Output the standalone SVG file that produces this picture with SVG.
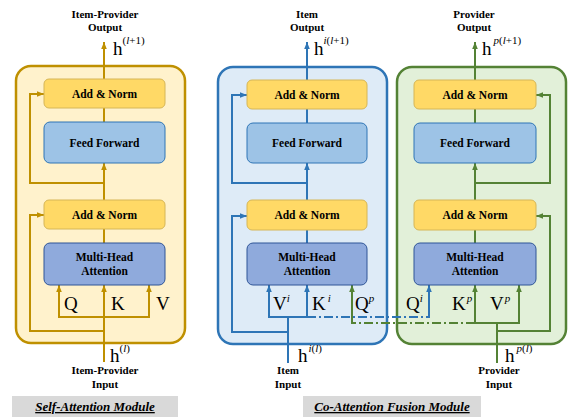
<svg xmlns="http://www.w3.org/2000/svg" width="568" height="417" viewBox="0 0 568 417">
<style>
text{font-family:"Liberation Serif","Times New Roman",serif;fill:#000}
.lbl{font-size:11.5px;font-weight:bold;text-anchor:middle}
.io{font-size:11px;font-weight:bold;text-anchor:middle}
.big{font-size:19px}
.sup{font-size:11px}
.it{font-style:italic}
.cap{font-size:13px;font-weight:bold;font-style:italic;text-decoration:underline;text-anchor:middle}
.an{fill:#ffd966;stroke:#d6b656;stroke-width:1}
.ff{fill:#9dc3e6;stroke:#2e75b6;stroke-width:1}
.mha{fill:#8faadc;stroke:#2f5597;stroke-width:1}
.ln{fill:none;stroke-width:2}
.g{stroke:#bf9000}
.b{stroke:#2e75b6}
.gr{stroke:#548235}
.dd{stroke-dasharray:9,3,2,3}
</style>
<defs>
<marker id="ag" viewBox="0 0 10 10" refX="10" refY="5" markerUnits="userSpaceOnUse" markerWidth="7" markerHeight="7" orient="auto"><path d="M0,1 L10,5 L0,9 z" fill="#bf9000"/></marker>
<marker id="ab" viewBox="0 0 10 10" refX="10" refY="5" markerUnits="userSpaceOnUse" markerWidth="7" markerHeight="7" orient="auto"><path d="M0,1 L10,5 L0,9 z" fill="#2e75b6"/></marker>
<marker id="agr" viewBox="0 0 10 10" refX="10" refY="5" markerUnits="userSpaceOnUse" markerWidth="7" markerHeight="7" orient="auto"><path d="M0,1 L10,5 L0,9 z" fill="#548235"/></marker>
</defs>

<!-- module frames -->
<g id="self-attention-module">
<rect x="16" y="66" width="169" height="277" rx="15" fill="#fff2cc" stroke="#bf9000" stroke-width="2.5"/>
</g>
<g id="item-module">
<rect x="218" y="67" width="169" height="277" rx="15" fill="#deebf7" stroke="#2e75b6" stroke-width="2.5"/>
</g>
<g id="provider-module">
<rect x="397" y="67" width="169" height="277" rx="15" fill="#e2f0d9" stroke="#548235" stroke-width="2.5"/>
</g>

<!-- connectors -->
<g id="connectors">
<!-- left -->
<path class="ln g" d="M104,79 V42" marker-end="url(#ag)"/>
<path class="ln g" d="M104,108 V122"/>
<path class="ln g" d="M104,200 V163" marker-end="url(#ag)"/>
<path class="ln g" d="M104,229 V243"/>
<path class="ln g" d="M104,183 H30 V94 H44" marker-end="url(#ag)"/>
<path class="ln g" d="M104,331 H30 V215 H44" marker-end="url(#ag)"/>
<path class="ln g" d="M104,362 V285" marker-end="url(#ag)"/>
<path class="ln g" d="M104,317 H59 V285" marker-end="url(#ag)"/>
<path class="ln g" d="M104,317 H149 V285" marker-end="url(#ag)"/>
<!-- middle -->
<path class="ln b" d="M307,80 V42" marker-end="url(#ab)"/>
<path class="ln b" d="M307,109 V123"/>
<path class="ln b" d="M307,200 V163" marker-end="url(#ab)"/>
<path class="ln b" d="M307,230 V243"/>
<path class="ln b" d="M307,183 H232 V95 H247" marker-end="url(#ab)"/>
<path class="ln b" d="M288,332 H232 V216 H247" marker-end="url(#ab)"/>
<path class="ln b" d="M288,363 V317"/>
<path class="ln b" d="M288,317 H269 V285" marker-end="url(#ab)"/>
<path class="ln b" d="M288,317 H307 V285" marker-end="url(#ab)"/>
<path class="ln b dd" d="M307,317 H429"/>
<path class="ln b" d="M429,318 V285" marker-end="url(#ab)"/>
<!-- right -->
<path class="ln gr" d="M475,80 V42" marker-end="url(#agr)"/>
<path class="ln gr" d="M475,109 V123"/>
<path class="ln gr" d="M475,200 V163" marker-end="url(#agr)"/>
<path class="ln gr" d="M475,230 V243"/>
<path class="ln gr" d="M475,183 H550 V95 H536" marker-end="url(#agr)"/>
<path class="ln gr" d="M497,331 H550 V216 H536" marker-end="url(#agr)"/>
<path class="ln gr" d="M497,363 V323"/>
<path class="ln gr" d="M497,323 H475 V285" marker-end="url(#agr)"/>
<path class="ln gr" d="M497,323 H519 V285" marker-end="url(#agr)"/>
<path class="ln gr dd" d="M475,323 H352"/>
<path class="ln gr" d="M352,324 V285" marker-end="url(#agr)"/>
</g>

<!-- left nodes -->
<g id="sa-addnorm-top"><rect class="an" x="44" y="79" width="121" height="29" rx="5"/><text class="lbl" x="104.5" y="98">Add &amp; Norm</text></g>
<g id="sa-feedforward"><rect class="ff" x="44" y="122" width="121" height="41" rx="6"/><text class="lbl" x="104.5" y="147">Feed Forward</text></g>
<g id="sa-addnorm-bottom"><rect class="an" x="44" y="200" width="121" height="29" rx="5"/><text class="lbl" x="104.5" y="219">Add &amp; Norm</text></g>
<g id="sa-mha"><rect class="mha" x="44" y="243" width="121" height="42" rx="6"/><text class="lbl" x="104.5" y="261">Multi-Head</text><text class="lbl" x="104.5" y="275">Attention</text></g>

<!-- middle nodes -->
<g id="item-addnorm-top"><rect class="an" x="247" y="80" width="120" height="29" rx="5"/><text class="lbl" x="307" y="99">Add &amp; Norm</text></g>
<g id="item-feedforward"><rect class="ff" x="247" y="123" width="120" height="40" rx="6"/><text class="lbl" x="307" y="147">Feed Forward</text></g>
<g id="item-addnorm-bottom"><rect class="an" x="247" y="200" width="120" height="30" rx="5"/><text class="lbl" x="307" y="219">Add &amp; Norm</text></g>
<g id="item-mha"><rect class="mha" x="247" y="243" width="120" height="42" rx="6"/><text class="lbl" x="307" y="261">Multi-Head</text><text class="lbl" x="307" y="275">Attention</text></g>

<!-- right nodes -->
<g id="prov-addnorm-top"><rect class="an" x="414" y="80" width="122" height="29" rx="5"/><text class="lbl" x="475" y="99">Add &amp; Norm</text></g>
<g id="prov-feedforward"><rect class="ff" x="414" y="123" width="122" height="40" rx="6"/><text class="lbl" x="475" y="147">Feed Forward</text></g>
<g id="prov-addnorm-bottom"><rect class="an" x="414" y="200" width="122" height="30" rx="5"/><text class="lbl" x="475" y="219">Add &amp; Norm</text></g>
<g id="prov-mha"><rect class="mha" x="414" y="243" width="122" height="42" rx="6"/><text class="lbl" x="475" y="261">Multi-Head</text><text class="lbl" x="475" y="275">Attention</text></g>

<!-- labels -->
<g id="labels">
<text class="io" x="105" y="18">Item-Provider</text>
<text class="io" x="105" y="31">Output</text>
<text class="big" x="113" y="55">h<tspan class="sup" dy="-11">(<tspan class="it">l</tspan>+1)</tspan></text>
<text class="big" x="64" y="310">Q</text>
<text class="big" x="111" y="310">K</text>
<text class="big" x="156" y="310">V</text>
<text class="big" x="110" y="362">h<tspan class="sup" dy="-10">(<tspan class="it">l</tspan>)</tspan></text>
<text class="io" x="105" y="374">Item-Provider</text>
<text class="io" x="105" y="388">Input</text>

<text class="io" x="307" y="18">Item</text>
<text class="io" x="307" y="31">Output</text>
<text class="big" x="314" y="55">h<tspan class="sup it" dy="-11">i</tspan><tspan class="sup" dy="0">(<tspan class="it">l</tspan>+1)</tspan></text>
<text class="big" x="273" y="310">V<tspan class="sup it" dy="-8">i</tspan></text>
<text class="big" x="312" y="310">K<tspan class="sup it" dy="-8" dx="2">i</tspan></text>
<text class="big" x="355" y="310">Q<tspan class="sup it" dy="-8">p</tspan></text>
<text class="big" x="298" y="362">h<tspan class="sup it" dy="-10" dx="1">i</tspan><tspan class="sup">(<tspan class="it">l</tspan>)</tspan></text>
<text class="io" x="288" y="374">Item</text>
<text class="io" x="288" y="388">Input</text>

<text class="io" x="474" y="18">Provider</text>
<text class="io" x="474" y="31">Output</text>
<text class="big" x="482" y="55">h<tspan class="sup it" dy="-11" dx="2">p</tspan><tspan class="sup">(<tspan class="it">l</tspan>+1)</tspan></text>
<text class="big" x="406" y="310">Q<tspan class="sup it" dy="-8">i</tspan></text>
<text class="big" x="452" y="310">K<tspan class="sup it" dy="-8" dx="1">p</tspan></text>
<text class="big" x="490" y="310">V<tspan class="sup it" dy="-8" dx="1">p</tspan></text>
<text class="big" x="505" y="362">h<tspan class="sup it" dy="-10" dx="2">p</tspan><tspan class="sup">(<tspan class="it">l</tspan>)</tspan></text>
<text class="io" x="499" y="374">Provider</text>
<text class="io" x="499" y="388">Input</text>
</g>

<g id="captions">
<rect x="12" y="396" width="166" height="21" fill="#d9d9d9"/>
<text class="cap" x="95" y="411">Self-Attention Module</text>
<rect x="303" y="396" width="178" height="21" fill="#d9d9d9"/>
<text class="cap" x="392" y="411">Co-Attention Fusion Module</text>
</g>
</svg>
